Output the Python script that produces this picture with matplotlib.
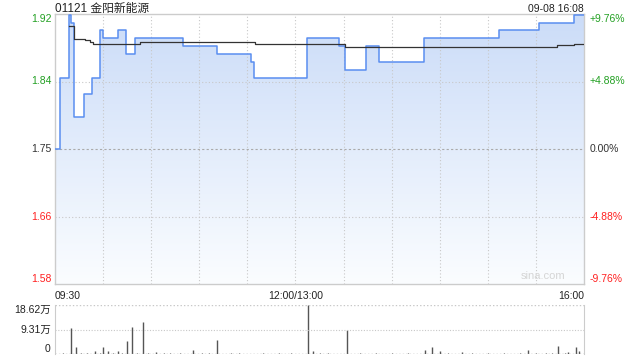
"""Intraday minute chart for 01121 with volume panel."""

import matplotlib

matplotlib.use("Agg")
import matplotlib.pyplot as plt
import numpy as np
from matplotlib.colors import LinearSegmentedColormap

plt.rcParams["font.family"] = ["Liberation Sans", "Noto Sans CJK SC", "DejaVu Sans"]

# minutes since 09:30 (lunch break removed), step changes of the last price
price_t = [0, 3, 9, 10, 12, 18, 23, 28, 30, 39, 44, 50, 80, 101, 122, 124,
           157, 177, 181, 194, 202, 230, 277, 302, 324, 330]
price_v = [1.75, 1.84, 1.92, 1.91, 1.79, 1.82, 1.84, 1.90, 1.89, 1.90, 1.87, 1.89,
           1.88, 1.87, 1.86, 1.84, 1.89, 1.88, 1.85, 1.88, 1.86, 1.89, 1.90, 1.91,
           1.92, 1.92]

avg_t = [9, 12, 19, 22, 24, 53, 125, 181, 313, 324, 330]
avg_v = [1.905, 1.889, 1.888, 1.886, 1.883, 1.885, 1.883, 1.879, 1.881, 1.883, 1.883]

# volume in 万 shares
vol_t = [10, 13, 20, 25, 30, 33, 39, 45, 48, 55, 63, 86, 101, 158, 161, 182,
         231, 235, 240, 254, 295, 314, 320, 325, 327]
vol_v = [9.8, 2.8, 0.5, 1.1, 2.8, 1.1, 1.1, 4.9, 10.3, 12.2, 0.6, 1.5, 5.3, 18.62,
         1.1, 9.1, 1.5, 2.8, 1.1, 0.6, 1.5, 3.2, 0.8, 2.8, 1.1]
small_t = [5, 16, 28, 36, 42, 51, 58, 68, 72, 78, 92, 96, 110, 115, 130, 140, 147,
           165, 170, 190, 200, 210, 220, 245, 260, 270, 280, 290, 300, 306, 310, 318]
small_v = [0.2] * len(small_t)

prev_close = 1.75
price_ticks = [1.92, 1.84, 1.75, 1.66, 1.58]
pct_ticks = ["+9.76%", "+4.88%", "0.00%", "-4.88%", "-9.76%"]
tick_colors = ["#22a022", "#22a022", "#333333", "#ff2020", "#ff2020"]
vol_ticks = ["18.62万", "9.31万", "0"]
vol_max = 18.62
time_labels = ["09:30", "12:00/13:00", "16:00"]
time_pos = [0, 150, 330]

ymin, ymax = prev_close * (1 - 0.0976), prev_close * (1 + 0.0976)
grid_color = "#c8c8c8"

fig = plt.figure(figsize=(6.4, 3.6), dpi=100)
ax = fig.add_axes([55 / 640, 1 - 284 / 360, 529 / 640, 270 / 360])
vax = fig.add_axes([55 / 640, 1 - 354 / 360, 529 / 640, 49 / 360])

ax.set_xlim(0, 330)
ax.set_ylim(ymin, ymax)

# gradient area under the price line
cmap = LinearSegmentedColormap.from_list("fill", ["#fbfdff", "#cbdcf8"])
grad = ax.imshow(np.linspace(0, 1, 256).reshape(-1, 1), cmap=cmap, origin="lower",
                 extent=[0, 330, ymin, ymax], aspect="auto", zorder=1)
poly = ax.fill_between(price_t, price_v, ymin, step="post", color="none", lw=0)
clip = poly.get_paths()[0]
grad.set_clip_path(clip, transform=ax.transData)

# grid
for t in range(30, 330, 30):
    ax.axvline(t, color=grid_color, lw=0.8, ls=(0, (1, 2)), zorder=2)
for level in [ymin + (ymax - ymin) * 0.75, ymin + (ymax - ymin) * 0.25]:
    ax.axhline(level, color=grid_color, lw=0.8, ls=(0, (1, 2)), zorder=2)
ax.axhline(prev_close, color="#aaaaaa", lw=0.8, ls=(0, (2, 2)), zorder=2)

ax.plot(price_t, price_v, drawstyle="steps-post", color="#5a8ef0", lw=1.1, zorder=4)
ax.plot(avg_t, avg_v, drawstyle="steps-post", color="#333333", lw=0.9, zorder=5)

ax.set_xticks([])
ax.set_yticks([])
for spine in ax.spines.values():
    spine.set_color("#cccccc")
    spine.set_linewidth(1)

# price / percent labels
label_y = [ymax, ymin + (ymax - ymin) * 0.75, prev_close, ymin + (ymax - ymin) * 0.25, ymin]
valigns = ["top", "center", "center", "center", "bottom"]
for y, price, pct, col, va in zip(label_y, price_ticks, pct_ticks, tick_colors, valigns):
    ax.text(-0.006, y, f"{price:.2f}", transform=ax.get_yaxis_transform(), ha="right",
            va=va, fontsize=7.5, color=col)
    ax.text(1.011, y, pct, transform=ax.get_yaxis_transform(), ha="left",
            va=va, fontsize=7.5, color=col)

ax.text(0, 1.008, "01121 金阳新能源", transform=ax.transAxes, ha="left", va="baseline",
        fontsize=8.5, color="#222222")
ax.text(1, 1.008, "09-08 16:08", transform=ax.transAxes, ha="right", va="baseline",
        fontsize=7.5, color="#222222")
ax.text(0.965, 0.012, "sina.com", transform=ax.transAxes, ha="right", va="bottom",
        fontsize=8, color="#d5d5d5")

for t, lab, ha in zip(time_pos, time_labels, ["left", "center", "right"]):
    ax.text(t, -0.025, lab, transform=ax.get_xaxis_transform(), ha=ha, va="top",
            fontsize=7.5, color="#222222")

# volume panel
vax.set_xlim(0, 330)
vax.set_ylim(0, vol_max)
vax.vlines(small_t, 0, small_v, color="#555555", lw=0.8)
vax.vlines(vol_t, 0, vol_v, color="#555555", lw=1.0)
vax.axhline(vol_max / 2, color=grid_color, lw=0.8, ls=(0, (1, 1.5)))
vax.axhline(vol_max, color=grid_color, lw=1.0, ls=(0, (1, 1.5)))
vax.axhline(0, color="#999999", lw=1.0, ls=(0, (1, 1.5)))
vax.set_xticks([])
vax.set_yticks([])
for side in ["top", "bottom"]:
    vax.spines[side].set_visible(False)
for side in ["left", "right"]:
    vax.spines[side].set_color("#cccccc")
for y, lab, va in zip([vol_max, vol_max / 2, 0], vol_ticks, ["top", "center", "bottom"]):
    vax.text(-0.008, y, lab, transform=vax.get_yaxis_transform(), ha="right",
             va=va, fontsize=7.5, color="#222222")

fig.savefig("out.png", dpi=100)
